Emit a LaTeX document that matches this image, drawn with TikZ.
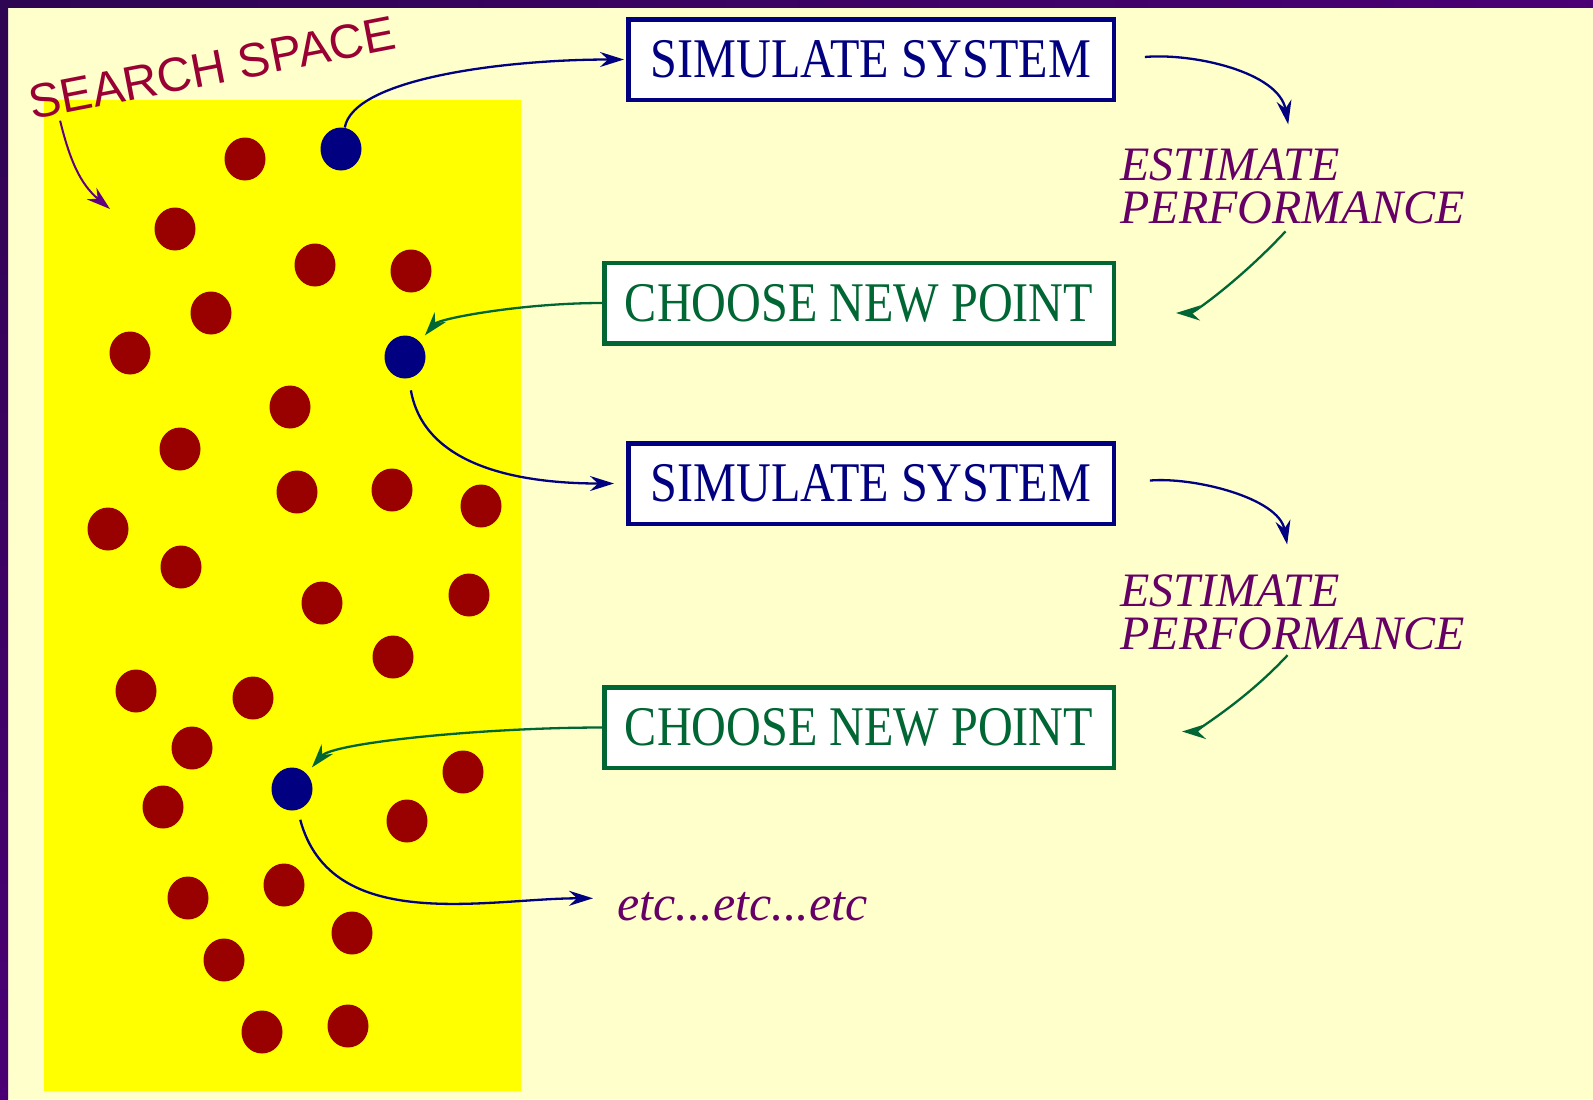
\documentclass[tikz,border=0pt]{standalone}
\usepackage{xcolor}
\usepackage{fontspec}
\setmainfont{Liberation Serif}
\newfontfamily\stretchserif[FakeStretch=0.86]{Liberation Serif}
\newfontfamily\headsans{Liberation Sans}
\usepackage{tikz}
\usetikzlibrary{arrows.meta,positioning,shapes.geometric,calc}
\definecolor{pagecream}{RGB}{255,255,204}
\definecolor{spaceyellow}{RGB}{255,255,0}
\definecolor{pointred}{RGB}{153,0,0}
\definecolor{simblue}{RGB}{0,0,128}
\definecolor{choosegreen}{RGB}{0,102,51}
\definecolor{estpurple}{RGB}{102,0,102}
\definecolor{spacecrimson}{RGB}{153,0,51}
\definecolor{hintviolet}{RGB}{96,0,128}
\definecolor{framedark}{RGB}{46,5,82}
\definecolor{framepurple}{RGB}{74,0,116}

\begin{document}
\begin{tikzpicture}[
  x=0.5pt, y=0.5pt,
  stepbox/.style={rectangle, draw, fill=white, line width=2.25pt, inner sep=0pt, minimum height=40.25pt, font=\stretchserif\fontsize{28pt}{30pt}\selectfont},
  simbox/.style={stepbox, draw=simblue, text=simblue, minimum width=242.75pt},
  choosebox/.style={stepbox, draw=choosegreen, text=choosegreen, minimum width=254.75pt},
  estimate/.style={align=left, inner sep=0pt, text=estpurple, font=\itshape\fontsize{24pt}{21.5pt}\selectfont},
  reddot/.style={ellipse, fill=pointred, inner sep=0pt, minimum width=20.5pt, minimum height=21.5pt},
  bluedot/.style={reddot, fill=simblue},
  stepflow/.style={-{Stealth[length=12pt, width=7.5pt, inset=4pt]}, line width=1.15pt},
]
  \useasboundingbox (0,0) rectangle (1593,-1099);

  % Background and frame
  \fill[pagecream] (0,0) rectangle (1593,-1099);
  \shade[top color=framedark, bottom color=framepurple] (0,0) rectangle (8,-1099);
  \shade[left color=framedark, right color=framepurple] (0,0) rectangle (1593,-7);

  % Search space
  \fill[spaceyellow] (44,-100) rectangle (521,-1091);
  \node[rotate=11, inner sep=0pt, text=spacecrimson, font=\headsans\fontsize{24pt}{28pt}\selectfont] (space) at (212,-68) {SEARCH SPACE};
  \coordinate (spacehint) at (110,-209);

  % Candidate points
  \node[reddot] (r1) at (245,-159) {};
  \node[reddot] (r2) at (175,-229) {};
  \node[reddot] (r3) at (315,-265) {};
  \node[reddot] (r4) at (411,-271) {};
  \node[reddot] (r5) at (211,-313) {};
  \node[reddot] (r6) at (130,-353) {};
  \node[reddot] (r7) at (290,-407) {};
  \node[reddot] (r8) at (180,-449) {};
  \node[reddot] (r9) at (297,-492) {};
  \node[reddot] (r10) at (392,-490) {};
  \node[reddot] (r11) at (481,-506) {};
  \node[reddot] (r12) at (108,-529) {};
  \node[reddot] (r13) at (181,-567) {};
  \node[reddot] (r14) at (322,-603) {};
  \node[reddot] (r15) at (469,-595) {};
  \node[reddot] (r16) at (393,-657) {};
  \node[reddot] (r17) at (136,-691) {};
  \node[reddot] (r18) at (253,-698) {};
  \node[reddot] (r19) at (192,-748) {};
  \node[reddot] (r20) at (463,-772) {};
  \node[reddot] (r21) at (163,-807) {};
  \node[reddot] (r22) at (407,-821) {};
  \node[reddot] (r23) at (188,-898) {};
  \node[reddot] (r24) at (284,-885) {};
  \node[reddot] (r25) at (352,-933) {};
  \node[reddot] (r26) at (224,-960) {};
  \node[reddot] (r27) at (262,-1032) {};
  \node[reddot] (r28) at (348,-1026) {};

  % Visited points
  \node[bluedot] (b1) at (341,-149) {};
  \node[bluedot] (b2) at (405,-357) {};
  \node[bluedot] (b3) at (292,-789) {};

  % Steps
  \node[simbox] (sim1) at (871,-59.5) {SIMULATE SYSTEM};
  \node[choosebox] (pick1) at (859,-303) {CHOOSE NEW POINT};
  \node[simbox] (sim2) at (871,-483.5) {SIMULATE SYSTEM};
  \node[choosebox] (pick2) at (859,-727.5) {CHOOSE NEW POINT};

  \node[estimate, anchor=north west] (est1) at (1120,-148) {ESTIMATE\\PERFORMANCE};
  \node[estimate, anchor=north west] (est2) at (1120,-574) {ESTIMATE\\PERFORMANCE};
  \node[estimate, anchor=base west, font=\itshape\fontsize{25pt}{30pt}\selectfont] (etc) at (617,-920) {etc...etc...etc};

  % Links
  \draw[stepflow, hintviolet, line width=1pt] ([xshift=14pt]space.south west) to[out=-76, in=140] (spacehint);

  \draw[stepflow, simblue, shorten >=1pt] (b1) to[out=80, in=180, out distance=25pt, in distance=60pt] (sim1.west);
  \draw[stepflow, simblue, shorten <=14.5pt, shorten >=12pt] (sim1.east) to[out=5, in=100] (est1.north);
  \draw[stepflow, choosegreen, shorten <=5pt, shorten >=30pt] (est1.south) to[out=-133, in=0] ([yshift=-5pt]pick1.east);
  \draw[stepflow, choosegreen, shorten >=4pt] (pick1.west) to[out=180, in=50, out distance=40pt, in distance=15pt] (b2.north east);

  \draw[stepflow, simblue, shorten <=6pt, shorten >=6pt] (b2) to[out=-80, in=180] (sim2.west);
  \draw[stepflow, simblue, shorten <=17pt, shorten >=15pt] (sim2.east) to[out=5, in=100] (est2.north);
  \draw[stepflow, choosegreen, shorten <=3.5pt, shorten >=33pt] (est2.south) to[out=-133, in=0] ([yshift=-2pt]pick2.east);
  \draw[stepflow, choosegreen, shorten >=4pt] (pick2.west) to[out=180, in=50, out distance=60pt, in distance=20pt] (b3.north east);

  \draw[stepflow, simblue, shorten <=5pt, shorten >=12pt] (b3) to[out=-75, in=180] ([yshift=4pt]etc.west);
\end{tikzpicture}
\end{document}
